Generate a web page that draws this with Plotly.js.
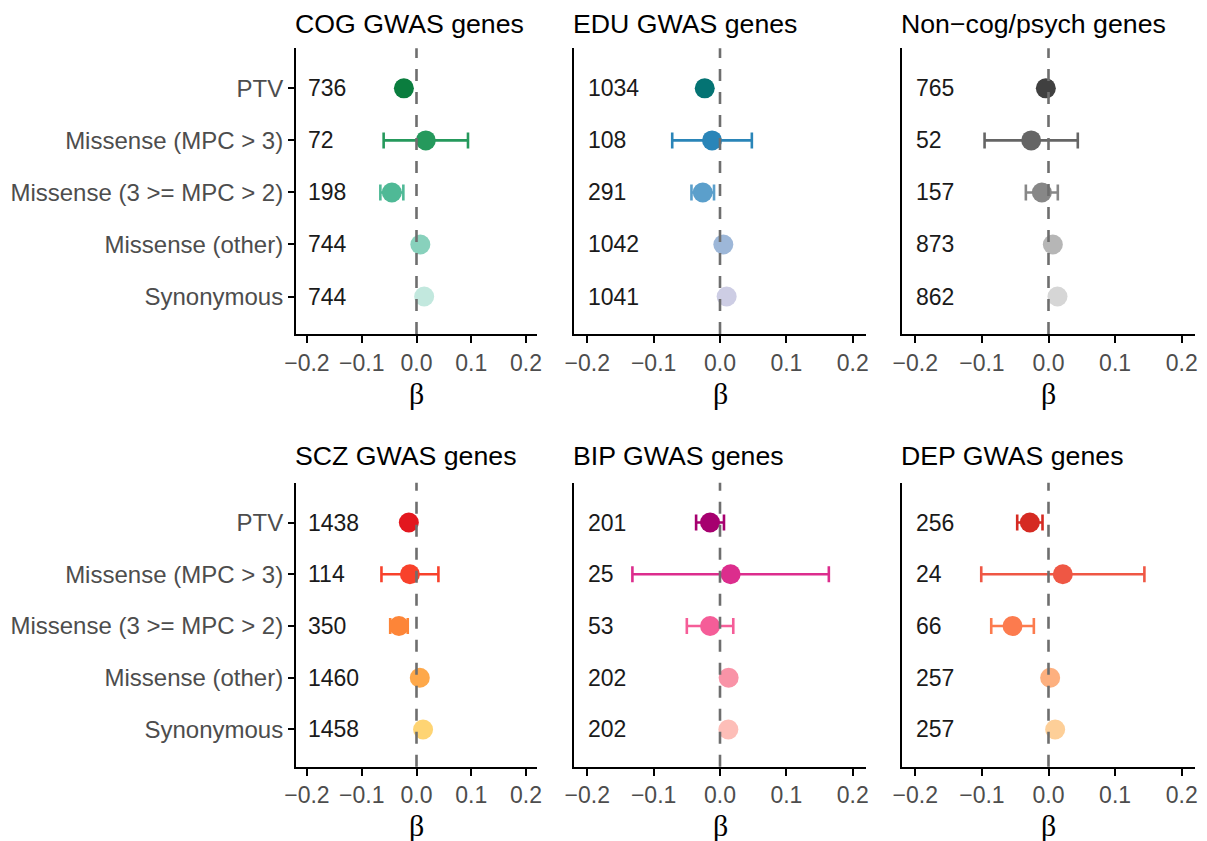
<!DOCTYPE html>
<html>
<head>
<meta charset="utf-8">
<script src="https://cdn.plot.ly/plotly-3.0.1.min.js"></script>
<style>
  html, body { margin: 0; padding: 0; background: #ffffff; }
  #chart { width: 1207px; height: 841px; }
</style>
</head>
<body>
<div id="chart"></div>
<script>
// Variant classes, shown top to bottom in every panel
const categories = ["PTV", "Missense (MPC > 3)", "Missense (3 >= MPC > 2)", "Missense (other)", "Synonymous"];

// Panel titles
const panelTitles = ["COG GWAS genes", "EDU GWAS genes", "Non\u2212cog/psych genes",
                     "SCZ GWAS genes", "BIP GWAS genes", "DEP GWAS genes"];

// Effect estimates (beta), 95% CI half-widths and gene counts per panel
const cogBeta = [-0.023, 0.017, -0.045, 0.007, 0.014];
const cogErr  = [0.008, 0.077, 0.021, 0.005, 0.005];
const cogN    = [736, 72, 198, 744, 744];

const eduBeta = [-0.023, -0.012, -0.026, 0.005, 0.010];
const eduErr  = [0.007, 0.060, 0.017, 0.005, 0.005];
const eduN    = [1034, 108, 291, 1042, 1041];

const nonBeta = [-0.004, -0.026, -0.010, 0.0065, 0.0135];
const nonErr  = [0.007, 0.070, 0.024, 0.005, 0.005];
const nonN    = [765, 52, 157, 873, 862];

const sczBeta = [-0.014, -0.012, -0.032, 0.006, 0.012];
const sczErr  = [0.007, 0.052, 0.016, 0.005, 0.005];
const sczN    = [1438, 114, 350, 1460, 1458];

const bipBeta = [-0.015, 0.016, -0.015, 0.013, 0.0126];
const bipErr  = [0.021, 0.148, 0.035, 0.007, 0.007];
const bipN    = [201, 25, 53, 202, 202];

const depBeta = [-0.028, 0.0215, -0.054, 0.0025, 0.010];
const depErr  = [0.019, 0.1225, 0.032, 0.007, 0.007];
const depN    = [256, 24, 66, 257, 257];

// Colour ramps, darkest for PTV
const cogColors = ["#0a7d3e", "#25995c", "#4fb996", "#88d1bc", "#c2e8de"];
const eduColors = ["#047373", "#2a85b8", "#5b9fcb", "#9db7d8", "#cdcde4"];
const nonColors = ["#404040", "#656565", "#878787", "#b6b6b6", "#d6d6d6"];
const sczColors = ["#e3171e", "#f8412b", "#fd8538", "#fea84a", "#fed473"];
const bipColors = ["#a6006f", "#dc2d8d", "#f55d98", "#f993a7", "#fdbeb8"];
const depColors = ["#d52a22", "#ef5744", "#fc7b4e", "#fdb07f", "#fdcf98"];

const xTickVals = [-0.2, -0.1, 0, 0.1, 0.2];
const xTickText = ["\u22120.2", "\u22120.1", "0.0", "0.1", "0.2"];

const panels = [
  {beta: cogBeta, err: cogErr, n: cogN, colors: cogColors},
  {beta: eduBeta, err: eduErr, n: eduN, colors: eduColors},
  {beta: nonBeta, err: nonErr, n: nonN, colors: nonColors},
  {beta: sczBeta, err: sczErr, n: sczN, colors: sczColors},
  {beta: bipBeta, err: bipErr, n: bipN, colors: bipColors},
  {beta: depBeta, err: depErr, n: depN, colors: depColors}
];

// Panel placement in pixels of the 1207 x 841 page
const W = 1207, H = 841;
const colPx = [[296, 537], [574, 866], [902, 1195]];
const rowPx = [[48.3, 334], [482.7, 766.7]];
const titleY = [24, 456];
const betaY = [376, 808];

const rowIdx = categories.map((_, i) => i);

const traces = [];
const layout = {
  width: W, height: H,
  margin: {l: 0, r: 0, t: 0, b: 0},
  paper_bgcolor: "#ffffff",
  plot_bgcolor: "#ffffff",
  showlegend: false,
  font: {family: "Liberation Sans, Arial, sans-serif", size: 23, color: "#4d4d4d"},
  annotations: [],
  shapes: []
};

panels.forEach((p, k) => {
  const row = Math.floor(k / 3), col = k % 3;
  const sfx = k === 0 ? "" : String(k + 1);
  const xa = "x" + sfx, ya = "y" + sfx;

  // One trace per variant class so each carries its own colour
  categories.forEach((c, i) => {
    traces.push({
      type: "scatter", mode: "markers",
      x: [p.beta[i]], y: [rowIdx[i]],
      xaxis: xa, yaxis: ya,
      marker: {size: 20, color: p.colors[i], line: {width: 0}},
      error_x: {type: "data", array: [p.err[i]], visible: true,
                color: p.colors[i], thickness: 2.6, width: 8},
      hoverinfo: "x+y"
    });
  });

  const xd = [colPx[col][0] / W, colPx[col][1] / W];
  const yd = [1 - rowPx[row][1] / H, 1 - rowPx[row][0] / H];

  layout["xaxis" + sfx] = {
    domain: xd, anchor: ya, range: [-0.22, 0.22],
    tickmode: "array", tickvals: xTickVals, ticktext: xTickText,
    ticks: "outside", ticklen: 7, tickwidth: 2, tickcolor: "#000000",
    showline: true, linecolor: "#000000", linewidth: 2,
    showgrid: false, zeroline: false, fixedrange: true,
    tickfont: {size: 23, color: "#4d4d4d"}
  };
  const labelled = col === 0;
  layout["yaxis" + sfx] = {
    domain: yd, anchor: xa, range: [4.72, -0.77],
    tickmode: "array", tickvals: rowIdx,
    ticktext: labelled ? categories : categories.map(() => ""),
    ticks: labelled ? "outside" : "", ticklen: 6, tickwidth: 2, tickcolor: "#000000",
    showticklabels: labelled,
    showline: true, linecolor: "#000000", linewidth: 2,
    showgrid: false, zeroline: false, fixedrange: true,
    tickfont: {size: 24, color: "#4d4d4d"}
  };

  // Reference line at beta = 0
  layout.shapes.push({
    type: "line", xref: xa, yref: ya + " domain",
    x0: 0, x1: 0, y0: 0, y1: 1, layer: "above",
    line: {color: "#6e6e6e", width: 2.6, dash: "12px,11px"}
  });

  // Gene counts at the left edge of each panel
  categories.forEach((c, i) => {
    layout.annotations.push({
      xref: xa, yref: ya, x: -0.2, y: rowIdx[i],
      xanchor: "left", yanchor: "middle", showarrow: false,
      text: String(p.n[i]), borderpad: 0,
      font: {size: 23, color: "#1a1a1a"}
    });
  });

  // Panel title
  layout.annotations.push({
    xref: "paper", yref: "paper",
    x: colPx[col][0] / W - 0.002, y: 1 - titleY[row] / H,
    xanchor: "left", yanchor: "middle", showarrow: false,
    text: panelTitles[k], borderpad: 0,
    font: {size: 26.7, color: "#000000"}
  });

  // Axis title
  layout.annotations.push({
    xref: "paper", yref: "paper",
    x: (colPx[col][0] + colPx[col][1]) / 2 / W, y: 1 - betaY[row] / H,
    xanchor: "center", yanchor: "top", showarrow: false,
    text: "\u03b2", borderpad: 0,
    font: {family: "Liberation Serif, serif", size: 30, color: "#000000"}
  });
});

Plotly.newPlot("chart", traces, layout, {displayModeBar: false, staticPlot: true});
</script>
</body>
</html>
